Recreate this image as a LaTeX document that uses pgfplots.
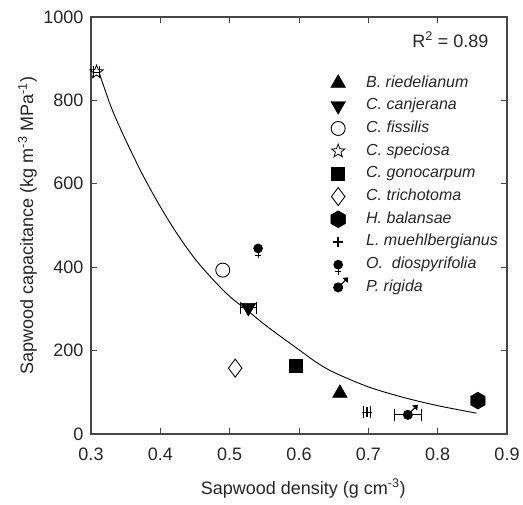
\documentclass[border=0pt]{standalone}
\usepackage{fontspec}
\setmainfont{Liberation Sans}
\usepackage{pgfplots}
\pgfplotsset{compat=1.18}
\usetikzlibrary{plotmarks}

\pgfdeclareplotmark{hexa}{%
  \pgfpathmoveto{\pgfqpointpolar{90}{\pgfplotmarksize}}%
  \pgfpathlineto{\pgfqpointpolar{150}{\pgfplotmarksize}}%
  \pgfpathlineto{\pgfqpointpolar{210}{\pgfplotmarksize}}%
  \pgfpathlineto{\pgfqpointpolar{270}{\pgfplotmarksize}}%
  \pgfpathlineto{\pgfqpointpolar{330}{\pgfplotmarksize}}%
  \pgfpathlineto{\pgfqpointpolar{30}{\pgfplotmarksize}}%
  \pgfpathclose\pgfusepath{fill,stroke}}
\pgfdeclareplotmark{ostar}{%
  \pgfpathmoveto{\pgfqpointpolar{90}{\pgfplotmarksize}}%
  \pgfpathlineto{\pgfqpointpolar{126}{0.42\pgfplotmarksize}}%
  \pgfpathlineto{\pgfqpointpolar{162}{\pgfplotmarksize}}%
  \pgfpathlineto{\pgfqpointpolar{198}{0.42\pgfplotmarksize}}%
  \pgfpathlineto{\pgfqpointpolar{234}{\pgfplotmarksize}}%
  \pgfpathlineto{\pgfqpointpolar{270}{0.42\pgfplotmarksize}}%
  \pgfpathlineto{\pgfqpointpolar{306}{\pgfplotmarksize}}%
  \pgfpathlineto{\pgfqpointpolar{342}{0.42\pgfplotmarksize}}%
  \pgfpathlineto{\pgfqpointpolar{18}{\pgfplotmarksize}}%
  \pgfpathlineto{\pgfqpointpolar{54}{0.42\pgfplotmarksize}}%
  \pgfpathclose\pgfusepath{stroke}}
\pgfdeclareplotmark{fem}{%
  \pgfpathcircle{\pgfpointorigin}{\pgfplotmarksize}\pgfusepath{fill,stroke}%
  \pgfpathmoveto{\pgfqpoint{0pt}{-\pgfplotmarksize}}%
  \pgfpathlineto{\pgfqpoint{0pt}{-2.3\pgfplotmarksize}}%
  \pgfpathmoveto{\pgfqpoint{-0.65\pgfplotmarksize}{-1.6\pgfplotmarksize}}%
  \pgfpathlineto{\pgfqpoint{0.65\pgfplotmarksize}{-1.6\pgfplotmarksize}}%
  \pgfusepath{stroke}}
\pgfdeclareplotmark{mal}{%
  \pgfpathcircle{\pgfpointorigin}{\pgfplotmarksize}\pgfusepath{fill,stroke}%
  \pgfpathmoveto{\pgfqpoint{0.6\pgfplotmarksize}{0.6\pgfplotmarksize}}%
  \pgfpathlineto{\pgfqpoint{1.9\pgfplotmarksize}{1.9\pgfplotmarksize}}%
  \pgfusepath{stroke}%
  \pgfpathmoveto{\pgfqpoint{2.1\pgfplotmarksize}{2.1\pgfplotmarksize}}%
  \pgfpathlineto{\pgfqpoint{1.2\pgfplotmarksize}{2.0\pgfplotmarksize}}%
  \pgfpathlineto{\pgfqpoint{2.0\pgfplotmarksize}{1.2\pgfplotmarksize}}%
  \pgfpathclose\pgfusepath{fill,stroke}}

\definecolor{axgray}{RGB}{70,70,70}

\begin{document}
\begin{tikzpicture}
\begin{axis}[
  name=ax,
  scale only axis,
  width=416bp, height=417bp,
  xmin=0.3, xmax=0.9, ymin=0, ymax=1000,
  xtick={0.3,0.4,0.5,0.6,0.7,0.8,0.9},
  ytick={0,200,400,600,800,1000},
  xticklabels={0.3,0.4,0.5,0.6,0.7,0.8,0.9},
  /pgf/number format/1000 sep={},
  tick align=inside,
  major tick length=6bp,
  axis line style={axgray, line width=1.4pt},
  every tick/.style={axgray, line width=1pt},
  /pgf/number format/assume math mode=true,
  tick label style={font=\fontsize{18bp}{20bp}\selectfont, text=black!85},
  xticklabel style={yshift=-10bp},
  yticklabel style={xshift=-4bp},
  xlabel={Sapwood density (g cm\textsuperscript{-3})},
  ylabel={Sapwood capacitance (kg m\textsuperscript{-3} MPa\textsuperscript{-1})},
  label style={font=\fontsize{18bp}{20bp}\selectfont, text=black!85},
  xlabel style={at={(rel axis cs:0.51,-0.144)}, anchor=base},
  ylabel style={at={(rel axis cs:-0.1526,0.5)}, anchor=center},
  legend style={draw=none, fill=none, at={(rel axis cs:0.5625,0.866)}, anchor=north west,
    font=\itshape\fontsize{16bp}{18bp}\selectfont, row sep=6.7bp, column sep=18bp,
    nodes={inner sep=0pt, text height=12bp, text depth=4bp, text=black!85}},
  legend cell align=left,
  legend image code/.code={\draw[#1, overlay] plot coordinates {(0bp,0bp)}; \path[draw=none, fill=none] (-10bp,-8bp) rectangle (10bp,8bp);},
  error bars/error mark options={rotate=90, mark size=6bp, line width=0.9pt},
  error bars/error bar style={line width=0.9pt},
]
\addplot[black, line width=0.9pt, smooth, forget plot] coordinates {
(0.313,860)(0.33,780)(0.35,705)(0.375,620)(0.40,545)(0.425,478)(0.45,420)(0.475,372)
(0.50,330)(0.525,297)(0.55,263)(0.575,232)(0.60,202)(0.625,172)(0.65,148)(0.70,113)
(0.75,88)(0.80,68)(0.856,50)};

\addplot[only marks, mark=triangle*, mark size=8.5bp, black] coordinates {(0.659,98)};
\addlegendentry{B. riedelianum}
\addplot[only marks, mark=triangle*, mark size=8.5bp, mark options={rotate=180}, black,
  error bars/.cd, x dir=both, x explicit] coordinates {(0.527,303) +- (0.012,0)};
\addlegendentry{C. canjerana}
\addplot[only marks, mark=o, mark size=7bp, black, line width=0.9pt] coordinates {(0.490,393)};
\addlegendentry{C. fissilis}
\addplot[only marks, mark=ostar, mark size=7bp, black, line width=0.8pt,
  error bars/.cd, x dir=both, x explicit] coordinates {(0.308,868) +- (0.004,0)};
\addlegendentry{C. speciosa}
\addplot[only marks, mark=square*, mark size=6.5bp, black,
  error bars/.cd, x dir=both, x explicit] coordinates {(0.595,163) +- (0.008,0)};
\addlegendentry{C. gonocarpum}
\addplot[only marks, mark=diamond, mark size=9bp, black, line width=0.9pt] coordinates {(0.508,158)};
\addlegendentry{C. trichotoma}
\addplot[only marks, mark=hexa, mark size=8.5bp, black] coordinates {(0.858,80)};
\addlegendentry{H. balansae}
\addplot[only marks, mark=+, mark size=5bp, black, line width=1.6pt,
  error bars/.cd, x dir=both, x explicit] coordinates {(0.698,52) +- (0.005,0)};
\addlegendentry{L. muehlbergianus}
\addplot[only marks, mark=fem, mark size=4.3bp, black, line width=1pt] coordinates {(0.541,445)};
\addlegendentry{O.\ \ diospyrifolia}
\addplot[only marks, mark=mal, mark size=4.5bp, black, line width=1pt,
  error bars/.cd, x dir=both, x explicit] coordinates {(0.757,46) +- (0.02,0)};
\addlegendentry{P. rigida}

\node[anchor=base east, font=\fontsize{18bp}{20bp}\selectfont, text=black!85] at (rel axis cs:0.964,0.928) {R\textsuperscript{2} = 0.89};
\end{axis}
\pgfresetboundingbox
\path[use as bounding box] ([shift={(-91bp,-70bp)}]ax.south west) rectangle ([shift={(16bp,17bp)}]ax.north east);
\end{tikzpicture}
\end{document}
